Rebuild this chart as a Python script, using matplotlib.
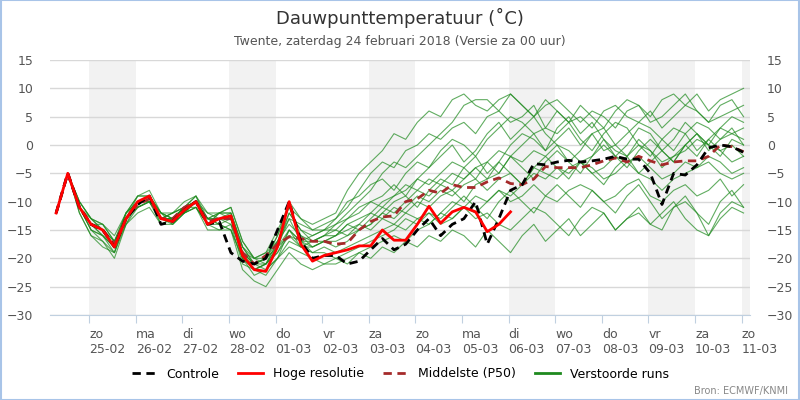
import matplotlib
matplotlib.use("Agg")
import matplotlib.pyplot as plt
from matplotlib.lines import Line2D
import numpy as np

# 6-hourly steps, hours relative to 25-02 00h
START_H = -17
STEP_H = 6

days = ["zo", "ma", "di", "wo", "do", "vr", "za", "zo", "ma", "di", "wo", "do", "vr", "za", "zo"]
dates = ["25-02", "26-02", "27-02", "28-02", "01-03", "02-03", "03-03", "04-03",
         "05-03", "06-03", "07-03", "08-03", "09-03", "10-03", "11-03"]
shaded_days = [0, 3, 6, 9, 12, 14]

controle = [-12, -5, -11, -14, -15, -18, -13, -10.5, -9, -14, -13.5, -11.5, -10, -14, -13.5,
            -19, -20.5, -21, -20, -15, -10, -17, -20, -19.5,
            -19.5, -21, -20.5, -18.5, -16.5, -18.5, -17.5, -15, -13, -16, -14, -13, -10, -17.5,
            -13, -8, -7, -3.3, -3.5, -3, -2.7, -3, -2.8, -2.5, -2, -2.5, -2.5, -5, -10.5, -5,
            -5.3, -3.5, -0.5, 0, -0.3, -1.3]
hoge_res = [-12, -5, -11, -14, -15, -18, -13, -10, -9, -13, -13.5, -11.5, -10, -14, -13,
            -12.5, -19.5, -22, -22.3, -18, -10, -17.5, -20.5, -19.5,
            -19, -18.5, -17.8, -17.8, -15, -16.8, -16.8, -14, -10.8, -13.8, -11.8, -11, -11.8,
            -15.3, -14, -11.8]
p50 = [-12, -5, -11, -14, -15, -17.5, -13, -10.5, -9.5, -13, -13, -11, -10, -13.5, -13,
       -13, -19, -21, -19.5, -17.5, -16.2, -16.5, -17, -17,
       -17.5, -17.3, -15, -13.5, -12.7, -12.5, -10, -9.5, -8, -8.5, -7, -7.5, -7.5, -6.5,
       -5.8, -6.8, -7, -6, -3.8, -4, -4, -4, -3.5, -2.8, -2.3, -3, -2, -2.8, -3.5, -3,
       -2.8, -2.8, -2, 0, -0.3, -1.2]

members = [
    [-12, -5, -10, -13, -15, -17, -12, -10, -9, -13, -14, -12, -10, -14, -12, -11, -17, -20, -21, -18, -12, -15, -17, -16,
     -14, -12, -10, -8, -5, -3, -4, -2, 0, 2, 4, 7, 8, 8, 6, 9, 7, 5, 7, 8, 6, 4, 6, 5, 3, 6, 7, 5, 8, 9, 7, 9, 6, 8, 9, 10],
    [-12, -5, -11, -15, -16, -19, -13, -11, -10, -14, -13, -11, -10, -13, -14, -15, -20, -22, -21, -19, -16, -18, -18, -17,
     -18, -17, -15, -14, -12, -10, -9, -11, -8, -6, -7, -4, -2, -5, -3, 0, 2, 1, -1, 3, 5, 2, 4, 1, -2, 0, 3, 2, -1, 1, 4, 2, 0, 3, 5, 4],
    [-12, -5, -12, -16, -18, -19, -14, -11, -10, -12, -12, -11, -11, -14, -13, -13, -20, -23, -22, -20, -15, -17, -19, -19,
     -20, -19, -18, -17, -16, -15, -13, -14, -12, -13, -11, -9, -11, -13, -10, -8, -10, -12, -9, -7, -9, -11, -8, -10, -12, -9, -7, -10, -13, -11, -9, -12, -14, -10, -8, -11],
    [-12, -5, -11, -14, -14, -17, -13, -9, -8, -12, -14, -12, -10, -13, -12, -12, -18, -21, -20, -16, -11, -13, -15, -14,
     -13, -10, -9, -7, -6, -8, -5, -3, -4, -1, 1, 0, -2, 1, 3, 5, 4, 2, 3, 6, 4, 1, -1, 2, 4, 3, 0, -2, 1, 3, 2, -1, 1, 3, 2, 1],
    [-12, -5, -11, -14, -16, -18, -14, -10, -10, -13, -12, -11, -9, -14, -15, -14, -21, -22, -23, -20, -18, -19, -20, -21,
     -21, -20, -19, -18, -17, -16, -17, -15, -14, -12, -13, -11, -12, -10, -8, -9, -7, -5, -6, -4, -5, -3, -4, -6, -5, -3, -2, -4, -6, -5, -3, -4, -2, -3, -5, -4],
    [-12, -5, -10, -13, -15, -18, -13, -10, -9, -14, -13, -11, -10, -12, -13, -14, -19, -20, -19, -15, -11, -16, -18, -17,
     -16, -14, -13, -12, -13, -11, -12, -10, -11, -9, -8, -10, -7, -6, -5, -2, -4, -6, -3, -1, -3, -5, -2, 0, -2, -4, -1, 1, -1, -3, 0, 2, 0, -2, 1, 0],
    [-12, -5, -11, -15, -17, -19, -13, -11, -10, -13, -13, -12, -11, -14, -13, -12, -18, -21, -20, -18, -16, -17, -16, -15,
     -15, -16, -14, -15, -13, -14, -12, -13, -14, -12, -10, -11, -13, -12, -14, -15, -13, -11, -12, -14, -16, -13, -11, -12, -15, -13, -12, -14, -15, -11, -10, -12, -16, -13, -11, -12],
    [-12, -5, -11, -14, -15, -18, -12, -10, -9, -12, -13, -11, -10, -14, -12, -13, -19, -22, -21, -19, -15, -18, -17, -16,
     -15, -13, -11, -10, -11, -9, -7, -8, -6, -7, -5, -6, -4, -3, -5, -2, -3, -1, -2, 0, -1, -3, -2, 1, -1, -2, 0, -1, -3, -2, -1, 1, 0, -1, 0, -2],
    [-12, -5, -11, -14, -15, -18, -13, -10, -9, -13, -13, -11, -10, -13, -13, -13, -19, -21, -20, -17, -14, -16, -17, -17,
     -17, -16, -15, -14, -12, -13, -11, -9, -10, -8, -9, -7, -6, -8, -6, -5, -7, -4, -5, -6, -4, -3, -5, -4, -2, -3, -5, -6, -8, -6, -5, -4, -3, -5, -6, -5],
    [-12, -5, -11, -13, -14, -16, -12, -9, -9, -13, -12, -10, -9, -12, -12, -12, -18, -20, -19, -17, -13, -14, -15, -15,
     -13, -11, -8, -5, -3, -4, -1, 0, 2, 1, 3, 4, 2, 5, 6, 4, 5, 7, 3, 2, 4, 5, 3, 6, 7, 5, 4, 6, 3, 5, 7, 6, 4, 5, 6, 7],
    [-12, -5, -11, -15, -16, -18, -13, -11, -10, -13, -13, -12, -11, -14, -14, -15, -20, -21, -22, -20, -17, -18, -19, -18,
     -19, -18, -17, -16, -15, -14, -15, -13, -12, -14, -13, -11, -9, -10, -8, -10, -9, -7, -9, -10, -8, -7, -8, -10, -9, -7, -6, -9, -10, -8, -7, -9, -8, -6, -9, -7],
    [-12, -5, -11, -14, -15, -17, -13, -10, -9, -12, -13, -11, -10, -13, -13, -13, -19, -21, -21, -18, -15, -17, -18, -17,
     -16, -15, -14, -12, -10, -9, -8, -6, -7, -5, -3, -4, -6, -3, -1, -2, 0, 2, -1, 1, 3, 0, 2, -1, 0, 2, 4, 3, 1, -1, 2, 4, 3, 1, 2, 3],
    [-12, -5, -10, -13, -14, -17, -12, -9, -9, -12, -13, -11, -9, -13, -12, -11, -17, -20, -20, -16, -10, -13, -14, -13,
     -12, -8, -5, -3, -1, 2, 1, 4, 6, 5, 8, 9, 7, 6, 8, 9, 7, 5, 8, 6, 4, 7, 5, 3, 6, 8, 7, 4, 5, 7, 9, 6, 4, 7, 8, 5],
    [-12, -5, -12, -16, -17, -20, -14, -12, -11, -14, -14, -12, -11, -15, -15, -15, -22, -24, -25, -22, -19, -21, -22, -21,
     -20, -21, -19, -20, -18, -19, -17, -18, -16, -17, -15, -16, -18, -15, -17, -19, -16, -14, -17, -15, -13, -16, -14, -12, -15, -13, -11, -14, -12, -10, -13, -15, -16, -12, -10, -11],
    [-12, -5, -11, -14, -15, -18, -13, -10, -9, -13, -13, -11, -10, -14, -13, -13, -19, -21, -20, -18, -13, -17, -17, -16,
     -16, -14, -15, -13, -11, -12, -10, -8, -9, -7, -8, -6, -4, -6, -3, -5, -7, -4, -2, -4, -6, -3, -5, -7, -4, -2, -5, -3, -1, -3, 0, -2, 1, -1, -3, -2],
    [-12, -5, -11, -14, -16, -18, -12, -10, -10, -13, -12, -11, -10, -13, -14, -13, -20, -22, -21, -17, -12, -15, -16, -15,
     -14, -13, -12, -10, -9, -7, -9, -6, -4, -2, 0, -3, -1, 2, 4, 1, 3, 5, 2, 0, -3, -1, 2, 3, 0, -2, 1, -1, -4, -2, 0, 2, -1, 1, 3, 0],
]


def times(n):
    return (START_H + STEP_H * np.arange(n)) / 24.0


fig = plt.figure(figsize=(8, 4), dpi=100)
ax = fig.add_axes([0.0625, 0.2125, 0.875, 0.6375])

for d in shaded_days:
    ax.axvspan(d, d + 1, color="#f2f2f2", zorder=0, lw=0)
for y in range(-30, 16, 5):
    ax.axhline(y, color="#d8d8d8", lw=1, zorder=1)

green = "#1e8a1e"
for m in members:
    ax.plot(times(len(m)), m, color=green, lw=0.8, alpha=0.7, zorder=2)
ax.plot(times(len(p50)), p50, color="#a52a2a", lw=2, ls=(0, (3, 2)), zorder=3)
ax.plot(times(len(controle)), controle, color="black", lw=2, ls=(0, (3, 2)), zorder=4)
ax.plot(times(len(hoge_res)), hoge_res, color="red", lw=2, zorder=5)

ax.set_xlim(-0.84, 14.18)
ax.set_ylim(-30, 15)
ax.set_yticks(range(-30, 16, 5))
ax.set_xticks(range(len(days)))
ax.set_xticklabels([f"{a}\n{b}" for a, b in zip(days, dates)], ha="left", fontsize=9)
ax.tick_params(axis="x", colors="#c0d0e0", length=6, labelcolor="#555555")
ax.tick_params(axis="y", length=0, labelcolor="#555555", labelsize=9, pad=12)
for s in ["top", "left", "right"]:
    ax.spines[s].set_visible(False)
ax.spines["bottom"].set_color("#c0d0e0")
ax2 = ax.twinx()
ax2.set_ylim(-30, 15)
ax2.set_yticks(range(-30, 16, 5))
ax2.tick_params(axis="y", length=0, labelcolor="#555555", labelsize=9, pad=12)
for s in ax2.spines.values():
    s.set_visible(False)

fig.text(0.5, 0.955, "Dauwpunttemperatuur (˚C)", ha="center", va="center", fontsize=13, color="#333333")
fig.text(0.5, 0.897, "Twente, zaterdag 24 februari 2018 (Versie za 00 uur)", ha="center", va="center",
         fontsize=9, color="#555555")
handles = [Line2D([], [], color="black", lw=2, ls=(0, (3, 2))),
           Line2D([], [], color="red", lw=2),
           Line2D([], [], color="#a52a2a", lw=2, ls=(0, (3, 2))),
           Line2D([], [], color=green, lw=2)]
labels = ["Controle", "Hoge resolutie", "Middelste (P50)", "Verstoorde runs"]
fig.legend(handles, labels, loc="center", bbox_to_anchor=(0.5, 0.065), ncol=4,
           frameon=False, fontsize=9, handlelength=2, columnspacing=1.5)
fig.text(0.985, 0.022, "Bron: ECMWF/KNMI", ha="right", va="center", fontsize=7, color="#888888")
fig.patches.append(plt.Rectangle((0.001, 0.001), 0.998, 0.998, transform=fig.transFigure,
                                 fill=False, ec="#a8c4e8", lw=1.5))
fig.savefig("out.png", dpi=100)
